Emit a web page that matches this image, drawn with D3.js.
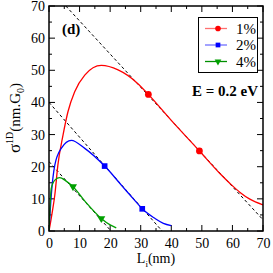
<!DOCTYPE html>
<html>
<head>
<meta charset="utf-8">
<script src="https://cdn.jsdelivr.net/npm/d3@7"></script>
<style>
  html, body { margin: 0; padding: 0; background: #fff; }
  svg { display: block; font-family: "Liberation Serif", "Times New Roman", serif; }
</style>
</head>
<body>
<div id="chart"></div>
<script>
// values
const redX = [0, 1, 1.9, 2.9, 4.6, 6.2, 8.4, 11.7, 17.1, 22.6, 28.9, 32.5, 40, 49.2, 55.9, 59.2, 62.5, 65.7, 70];
const redY = [0, 5.5, 11.2, 20.5, 29.9, 37.1, 43.3, 48.5, 51.5, 50.1, 46, 42.5, 34.4, 24.9, 17.9, 14.8, 12.0, 9.9, 8.1];
const blueX = [0, 0.75, 1.9, 4, 7.3, 11.7, 18.2, 24, 28.9, 30.5, 34.7, 37.4, 40];
const blueY = [0, 11.2, 20.5, 25.7, 28.2, 25.7, 20.2, 13.9, 8.6, 6.9, 3.9, 2.4, 1.7];
const greenX = [0, 0.75, 2, 3.5, 5.5, 7.85, 12, 17.1, 20, 22];
const greenY = [0, 13.3, 15.9, 16.6, 15.6, 13.8, 9.0, 3.9, 1.9, 1.0];

const redMarkX = [32.5, 49.2], redMarkY = [42.5, 24.9];
const blueMarkX = [18.2, 30.5], blueMarkY = [20.2, 6.9];
const greenMarkX = [7.85, 17.1], greenMarkY = [13.8, 3.9];

// dashed asymptotes, as endpoints
const dashRed = [[5.5, 70], [70, 3.5]];
const dashBlue = [[0, 40], [37, 0]];
const dashGreen = [[0, 21.6], [20.3, 0]];

const xTicks = [0, 10, 20, 30, 40, 50, 60, 70];
const yTicks = [0, 10, 20, 30, 40, 50, 60, 70];
const legendLabels = ["1%", "2%", "4%"];

const W = 273, H = 273;
const margin = { top: 6, right: 10, bottom: 42, left: 49 };
const width = W - margin.left - margin.right;
const height = H - margin.top - margin.bottom;

const svg = d3.select("#chart").append("svg")
  .attr("width", W)
  .attr("height", H);

const g = svg.append("g")
  .attr("transform", `translate(${margin.left},${margin.top})`);

const x = d3.scaleLinear().domain([0, 70]).range([0, width]);
const y = d3.scaleLinear().domain([0, 70]).range([height, 0]);

g.append("clipPath").attr("id", "clip")
  .append("rect").attr("width", width).attr("height", height);

// ticks on all four sides, pointing inward (major every 10, minor every 5)
const minor = d3.range(0, 71, 5);
const tickG = g.append("g").attr("stroke", "#000").attr("stroke-width", 1);
minor.forEach(v => {
  const L = v % 10 === 0 ? 6 : 3;
  tickG.append("line").attr("x1", x(v)).attr("x2", x(v)).attr("y1", height).attr("y2", height - L);
  tickG.append("line").attr("x1", x(v)).attr("x2", x(v)).attr("y1", 0).attr("y2", L);
  tickG.append("line").attr("y1", y(v)).attr("y2", y(v)).attr("x1", 0).attr("x2", L);
  tickG.append("line").attr("y1", y(v)).attr("y2", y(v)).attr("x1", width).attr("x2", width - L);
});

// tick labels through axes
const xAxis = g.append("g")
  .attr("transform", `translate(0,${height})`)
  .call(d3.axisBottom(x).tickValues(xTicks).tickSize(0).tickPadding(7));
xAxis.select(".domain").remove();
xAxis.selectAll("text").style("font-size", "14px").style("font-family", "Liberation Serif").attr("fill", "#000");

const yAxis = g.append("g")
  .call(d3.axisLeft(y).tickValues(yTicks).tickSize(0).tickPadding(4));
yAxis.select(".domain").remove();
yAxis.selectAll("text").style("font-size", "14px").style("font-family", "Liberation Serif").attr("fill", "#000");

// dashed lines
const plot = g.append("g").attr("clip-path", "url(#clip)");
[dashRed, dashBlue, dashGreen].forEach(seg => {
  plot.append("line")
    .attr("x1", x(seg[0][0])).attr("y1", y(seg[0][1]))
    .attr("x2", x(seg[1][0])).attr("y2", y(seg[1][1]))
    .attr("stroke", "#000")
    .attr("stroke-width", 1)
    .attr("stroke-dasharray", "3,2.5");
});

// curves
const line = d3.line()
  .x(d => x(d[0]))
  .y(d => y(d[1]))
  .curve(d3.curveMonotoneX);

const series = [
  { xs: redX, ys: redY, color: "#ff0000", mx: redMarkX, my: redMarkY, sym: d3.symbolCircle, size: 36, legendColor: "#ff7070" },
  { xs: blueX, ys: blueY, color: "#0000ff", mx: blueMarkX, my: blueMarkY, sym: d3.symbolSquare, size: 32, legendColor: "#7070ff" },
  { xs: greenX, ys: greenY, color: "#00a000", mx: greenMarkX, my: greenMarkY, sym: d3.symbolTriangle, size: 28, legendColor: "#009000" }
];

series.forEach(s => {
  plot.append("path")
    .datum(s.xs.map((v, i) => [v, s.ys[i]]))
    .attr("fill", "none")
    .attr("stroke", s.color)
    .attr("stroke-width", 1.3)
    .attr("d", line);
  plot.selectAll(null)
    .data(s.mx.map((v, i) => [v, s.my[i]]))
    .enter().append("path")
    .attr("d", d3.symbol().type(s.sym).size(s.size))
    .attr("transform", d => `translate(${x(d[0])},${y(d[1])})` + (s.sym === d3.symbolTriangle ? " rotate(180)" : ""))
    .attr("fill", s.color);
});

// frame
g.append("rect")
  .attr("width", width).attr("height", height)
  .attr("fill", "none").attr("stroke", "#000").attr("stroke-width", 1.5);

// legend
const leg = svg.append("g");
leg.append("rect")
  .attr("x", 198.5).attr("y", 17.5).attr("width", 59).attr("height", 55)
  .attr("fill", "#fff").attr("stroke", "#000").attr("stroke-width", 1);
const legY = [28.5, 45, 61.5];
series.forEach((s, i) => {
  leg.append("line")
    .attr("x1", 205).attr("x2", 227)
    .attr("y1", legY[i]).attr("y2", legY[i])
    .attr("stroke", s.legendColor).attr("stroke-width", 1.3);
  leg.append("path")
    .attr("d", d3.symbol().type(s.sym).size(s.size * 0.7))
    .attr("transform", `translate(218,${legY[i]})` + (s.sym === d3.symbolTriangle ? " rotate(180)" : ""))
    .attr("fill", s.color);
  leg.append("text")
    .attr("x", 256).attr("y", legY[i] + 5)
    .attr("text-anchor", "end")
    .style("font-size", "15px")
    .text(legendLabels[i]);
});

// annotations
svg.append("text")
  .attr("x", 258).attr("y", 96)
  .attr("text-anchor", "end")
  .style("font-size", "15px").style("font-weight", "bold")
  .text("E = 0.2 eV");

svg.append("text")
  .attr("x", 62).attr("y", 34)
  .style("font-size", "15px").style("font-weight", "bold")
  .text("(d)");

// axis titles
const xt = svg.append("text")
  .attr("x", 156).attr("y", 263)
  .attr("text-anchor", "middle")
  .style("font-size", "14px");
xt.append("tspan").text("L");
xt.append("tspan").attr("dy", 4).style("font-size", "9px").text("i");
xt.append("tspan").attr("dy", -4).text("(nm)");

const yt = svg.append("text")
  .attr("transform", "translate(20,118) rotate(-90)")
  .attr("text-anchor", "middle")
  .style("font-size", "15px");
yt.append("tspan").style("font-size", "17px").text("σ");
yt.append("tspan").attr("dy", -7).style("font-size", "10px").text("1D");
yt.append("tspan").attr("dy", 7).text("(nm.G");
yt.append("tspan").attr("dy", 4).style("font-size", "10px").text("0");
yt.append("tspan").attr("dy", -4).text(")");
</script>
</body>
</html>
